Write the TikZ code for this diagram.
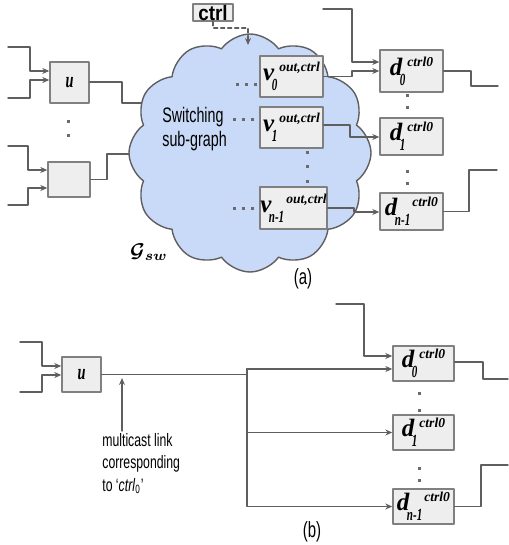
\documentclass[tikz,border=0pt]{standalone}
\usepackage{bm}
\usepackage{fontspec}
\setmainfont{Liberation Sans}[FakeStretch=0.68]
\newfontfamily\ctrlfont{Liberation Sans}[FakeStretch=0.9]
\newfontfamily\lblfont{Liberation Serif}
\newfontfamily\lblnarrow{Liberation Serif}[FakeStretch=0.65]
\usetikzlibrary{shapes.symbols,arrows.meta}
\definecolor{boxfill}{HTML}{EEEEEE}
\definecolor{boxline}{HTML}{808080}
\definecolor{wiregray}{HTML}{5F5F5F}
\definecolor{cloudfill}{HTML}{C9DAF8}
\definecolor{dotgray}{HTML}{6B6B6B}

\newcommand{\nlbl}[3]{\mbox{\bfseries\itshape
  \lblfont\fontsize{12.5}{12.5}\selectfont #1\kern-0.1em
  \raisebox{-5pt}{\lblnarrow\fontsize{8.5}{8.5}\selectfont #3}\kern1pt
  \raisebox{4.5pt}{\lblfont\fontsize{6.8}{6.8}\selectfont #2}}}
\newcommand{\ulbl}{{\lblnarrow\bfseries\itshape\fontsize{11}{11}\selectfont u}}
\newcommand{\sqdot}[2]{\fill[dotgray] ({#1-1.5},{#2-1.5}) rectangle ++(3,3);}

\begin{document}
\begin{tikzpicture}[x=0.5pt,y=-0.5pt,line cap=round,line join=round,>={Stealth[length=3.5pt,width=3pt]},
  every node/.style={inner sep=1pt},
  box/.style={draw=boxline,fill=boxfill,line width=0.7pt,inner sep=0pt},
  wire/.style={draw=wiregray,line width=0.7pt}]
  \useasboundingbox (0,0) rectangle (508,545);
  % (a) inputs of the switching sub-graph
  \node[box,minimum width=19.5pt,minimum height=20.5pt] (ua) at (69.5,82.5) {\ulbl};
  \node[box,minimum width=21pt,minimum height=17.5pt] (wa) at (69,179.5) {};
  \coordinate (ua-in1) at (8,47);
  \coordinate (ua-in2) at (8,98);
  \coordinate (wa-in1) at (8,146);
  \coordinate (wa-in2) at (8,205);
  \coordinate (ua-end) at (175,103);
  \coordinate (wa-end) at (160,154);
  \draw[wire,->] (ua-in1) -| (30,71) -- (ua.west |- 0,71);
  \draw[wire,->] (ua-in2) -| (30,80) -- (ua.west |- 0,80);
  \draw[wire,->] (wa-in1) -| (28,170) -- (wa.west |- 0,170);
  \draw[wire,->] (wa-in2) -| (28,188) -- (wa.west |- 0,188);
  \draw[wire] (ua.east |- 0,82) -| (122,103) -- (ua-end);
  \draw[wire] (wa.east) -| (107,154) -- (wa-end);
  \sqdot{68}{122}
  \sqdot{68}{136}
  % cloud
  \node[cloud,cloud puffs=12,cloud puff arc=110,aspect=1.0,draw=wiregray,fill=cloudfill,
    line width=0.7pt,minimum width=121pt,minimum height=119pt,inner sep=0pt] (sw) at (250,153) {};
  \node[anchor=north west,align=left,font=\fontsize{10.5}{12}\selectfont] (swtxt) at (160,105) {Switching\\sub-graph};
  \node[font=\fontsize{10}{10}\selectfont] (gsw) at (149,252) {$\bm{\mathcal{G}}_{\bm{sw}}$};
  \node[box,minimum width=31.5pt,minimum height=20.5pt] (v0) at (291.5,76.5) {\nlbl{v}{out,ctrl}{0}};
  \node[box,minimum width=31.5pt,minimum height=20.5pt] (v1) at (291.5,127.5) {\nlbl{v}{out,ctrl}{1}};
  \node[box,minimum width=33.5pt,minimum height=21pt] (vn) at (293.5,208) {\nlbl{v}{out,ctrl}{n-1}};
  \foreach \x in {237,246,255} {\sqdot{\x}{85}}
  \foreach \x in {234,243,252} {\sqdot{\x}{120}}
  \foreach \x in {234,243,252} {\sqdot{\x}{208}}
  \foreach \y in {153,167,182} {\sqdot{307}{\y}}
  % ctrl
  \node[box,minimum width=20pt,minimum height=8.5pt,font=\ctrlfont\bfseries\fontsize{10.5}{10.5}\selectfont] (ctrl) at (213,12.5) {ctrl};
  \coordinate (ctrl-tip) at (248,45);
  \draw[wire,dashed,dash pattern=on 2pt off 1.5pt,->] (ctrl.south) -- (213,28) -| (ctrl-tip);
  % (a) destinations
  \node[box,minimum width=31.5pt,minimum height=21pt] (d0) at (411.5,71) {\nlbl{d}{ctrl0}{0}};
  \node[box,minimum width=31.5pt,minimum height=18.5pt] (d1) at (411.5,136.5) {\nlbl{d}{ctrl0}{1}};
  \node[box,minimum width=31.5pt,minimum height=18.5pt] (dn) at (411.5,211.5) {\nlbl{d}{ctrl0}{n-1}};
  \coordinate (d0-in) at (323,9);
  \coordinate (d0-out) at (498,86);
  \coordinate (dn-out) at (497,170);
  \draw[wire,->] (d0-in) -| (352,62) -- (d0.west |- 0,62);
  \draw[wire,->] (v0.east) -| (352,71) -- (d0.west);
  \draw[wire,->] (v1.east |- 0,125) -| (350,137) -- (d1.west |- 0,137);
  \draw[wire,->] (vn.east) -| (354,212) -- (dn.west |- 0,212);
  \draw[wire] (d0.east) -| (471,86) -- (d0-out);
  \draw[wire] (dn.east) -| (469,170) -- (dn-out);
  \sqdot{407}{96}
  \sqdot{407}{108}
  \sqdot{407}{172}
  \sqdot{407}{184}
  \node[font=\fontsize{11}{11}\selectfont] (capa) at (303,279) {(a)};
  % (b) multicast link
  \node[box,minimum width=19.5pt,minimum height=17.5pt] (ub) at (81.5,374.5) {\ulbl};
  \coordinate (ub-in1) at (20,342);
  \coordinate (ub-in2) at (20,392);
  \draw[wire,->] (ub-in1) -| (42,366) -- (ub.west |- 0,366);
  \draw[wire,->] (ub-in2) -| (42,375) -- (ub.west |- 0,375);
  \node[box,minimum width=30.5pt,minimum height=17.5pt] (bd0) at (423.5,363.5) {\nlbl{d}{ctrl0}{0}};
  \node[box,minimum width=30.5pt,minimum height=17.5pt] (bd1) at (423.5,432.5) {\nlbl{d}{ctrl0}{1}};
  \node[box,minimum width=30.5pt,minimum height=17.5pt] (bdn) at (423.5,506.5) {\nlbl{d}{ctrl0}{n-1}};
  \coordinate (split) at (247,369);
  \draw[wire,->] (ub.east) -| (split) -- (bd0.west |- split);
  \draw[wire,->] (split) |- (bd1.west);
  \draw[wire,->] (split) |- (bdn.west);
  \coordinate (bd0-in) at (336,304);
  \coordinate (bd0-out) at (508,379);
  \coordinate (bdn-out) at (508,465);
  \draw[wire,->] (bd0-in) -| (364,356) -- (bd0.west |- 0,356);
  \draw[wire] (bd0.east |- 0,362) -| (483,379) -- (bd0-out);
  \draw[wire] (bdn.east) -| (481,465) -- (bdn-out);
  \sqdot{419}{393}
  \sqdot{419}{410}
  \sqdot{419}{468}
  \sqdot{419}{480}
  \node[anchor=north west,align=left,font=\fontsize{9}{11.25}\selectfont] (mc) at (100,431) {multicast link\\corresponding\\to ‘\textit{ctrl}\textsubscript{0}’};
  \coordinate (mc-tip) at (122,378);
  \draw[wire,->] (mc.north -| mc-tip) -- (mc-tip);
  \node[font=\fontsize{11}{11}\selectfont] (capb) at (312,532) {(b)};
\end{tikzpicture}
\end{document}
